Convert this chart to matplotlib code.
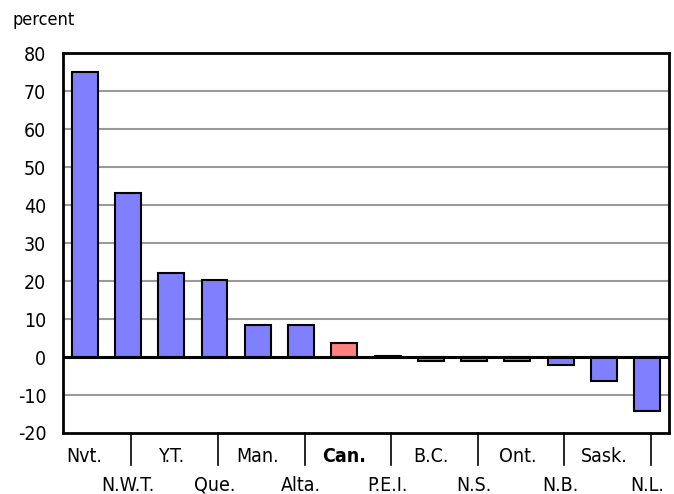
import numpy as np
import matplotlib.pyplot as plt

plt.rcParams['font.family'] = ['DejaVu Sans']
plt.rcParams['font.stretch'] = 'condensed'

# data
provinces = ['Nvt.', 'N.W.T.', 'Y.T.', 'Que.', 'Man.', 'Alta.', 'Can.',
             'P.E.I.', 'B.C.', 'N.S.', 'Ont.', 'N.B.', 'Sask.', 'N.L.']
change = [75.0, 43.2, 22.1, 20.3, 8.4, 8.4, 3.7,
          0.3, -1.0, -1.0, -1.0, -2.1, -6.3, -14.2]
yticks = [-20, -10, 0, 10, 20, 30, 40, 50, 60, 70, 80]

colors = ['#FF8080' if p == 'Can.' else '#8080FF' for p in provinces]

fig = plt.figure(figsize=(6.74, 4.94), dpi=100)
ax = fig.add_axes([0.0935, 0.1235, 0.899, 0.769])

x = np.arange(len(provinces))
ax.bar(x, change, width=0.6, color=colors, edgecolor='black', linewidth=1.5, zorder=3)

ax.set_xlim(-0.5, len(provinces) - 0.5)
ax.set_ylim(-20, 80)
ax.set_yticks(yticks)
ax.set_yticklabels([str(v) for v in yticks], fontsize=14)
ax.tick_params(axis='y', length=0, pad=12)
for v in yticks:
    if v not in (-20, 0, 80):
        ax.axhline(v, color='#999999', linewidth=1.5, zorder=1)
ax.axhline(0, color='black', linewidth=2.2, zorder=4)

for s in ax.spines.values():
    s.set_linewidth(2)

# category labels on two rows, separator ticks below axis
ax.set_xticks([])
trans = ax.get_xaxis_transform()
for i, p in enumerate(provinces):
    yy = -0.063 if i % 2 == 0 else -0.137
    ax.text(i, yy, p, transform=trans, ha='center', va='center', fontsize=14,
            fontweight='bold' if p == 'Can.' else 'normal')
    if i % 2 == 1:
        ax.plot([i + 0.08, i + 0.08], [0, -0.085], transform=trans,
                color='black', linewidth=1.2, clip_on=False)

fig.text(0.018, 0.96, 'percent', fontsize=13, ha='left', va='center')

plt.savefig('out.png')
